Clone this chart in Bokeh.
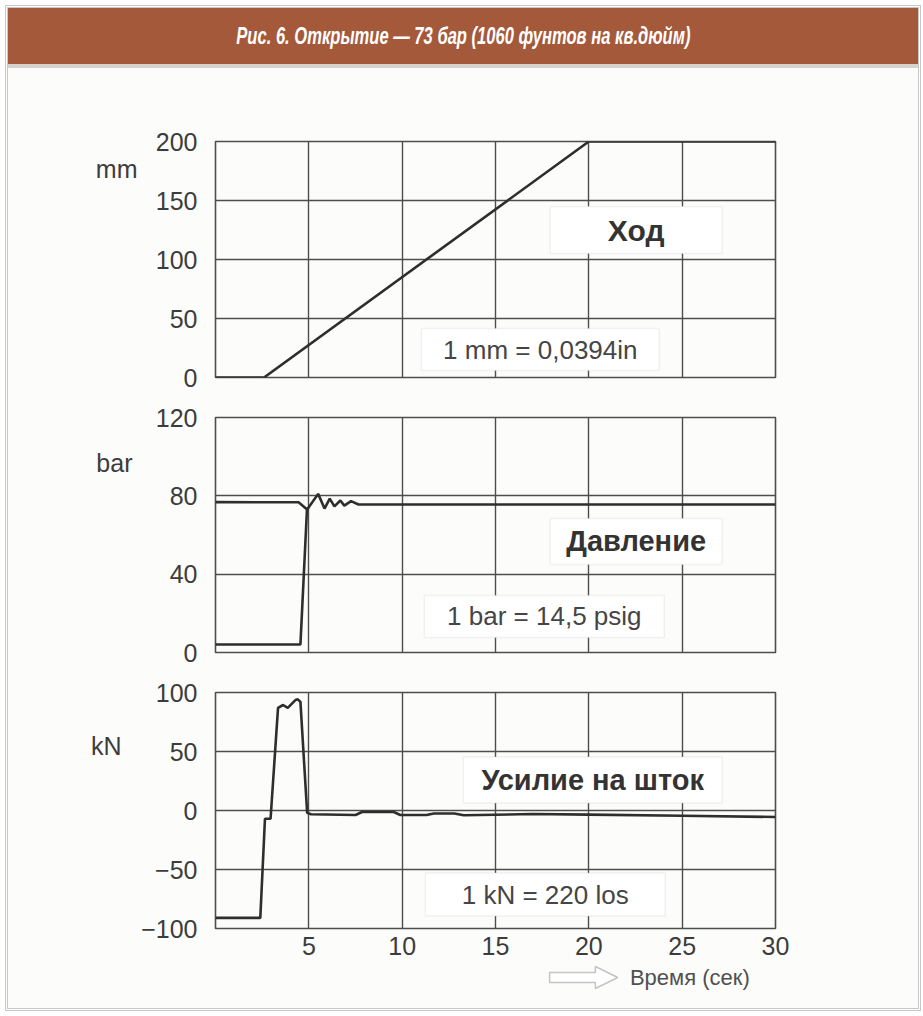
from bokeh.plotting import figure
from bokeh.models import Range1d, FixedTicker, Label, BoxAnnotation, Div, LinearAxis
from bokeh.layouts import column
from bokeh.embed import file_html
from bokeh.resources import INLINE
from bokeh.core.properties import value

# ---------------- data ----------------
TITLE = "Рис. 6. Открытие — 73 бар (1060 фунтов на кв.дюйм)"
X_LABEL = "Время (сек)"
x_ticks = [5, 10, 15, 20, 25, 30]

# panel 1: travel (mm)
travel_t = [0, 2.6, 20, 30]
travel_mm = [0, 0, 200, 200]
travel_ticks = [0, 50, 100, 150, 200]

# panel 2: pressure (bar) - upstream and downstream traces
press_up_t = [0, 4.45, 4.91, 5.5, 5.84, 6.12, 6.37, 6.69, 6.9, 7.26, 7.66, 30]
press_up = [76.8, 76.7, 73, 81, 73.5, 78.6, 74.6, 77.6, 75, 77.3, 75.6, 75.6]
press_dn_t = [0, 4.55, 4.9]
press_dn = [4.1, 4.1, 73]
press_ticks = [0, 40, 80, 120]

# panel 3: stem force (kN)
force_t = [0, 2.4, 2.65, 2.95, 3.35, 3.62, 3.87, 4.28, 4.41, 4.55, 4.91, 5.12,
           7.5, 7.85, 9.55, 9.9, 11.3, 11.7, 12.8, 13.3, 17, 20, 25, 30]
force_kn = [-91, -91, -7, -7, 87, 89.4, 87, 93.6, 94.2, 92, -2, -3.2,
            -3.8, -1.3, -1.3, -3.8, -3.8, -2.5, -2.5, -4, -3, -3.5, -4.5, -5.5]
force_ticks = [-100, -50, 0, 50, 100]

# ---------------- style ----------------
BG = "#fcfcfa"
GRID = "#4d4d4d"
TXT = "#3c3c3c"
LINE = "#2e2e2e"
FONT = "Liberation Sans"
W = 910
LEFT = 207
FRAME_W = 560


def style_axis(ax, size="25px", color=TXT):
    ax.axis_line_color = None
    ax.major_tick_line_color = None
    ax.minor_tick_line_color = None
    ax.major_tick_out = 0
    ax.major_tick_in = 0
    ax.major_label_text_font = FONT
    ax.major_label_text_font_size = size
    ax.major_label_text_color = color


def make_fig(height, top, bottom, yr, yticks, show_x=False):
    p = figure(width=W, height=height, x_range=Range1d(0, 30), y_range=Range1d(*yr),
               output_backend="svg", toolbar_location=None,
               min_border_left=LEFT, min_border_right=W - LEFT - FRAME_W,
               min_border_top=top, min_border_bottom=bottom,
               background_fill_color=BG, border_fill_color=BG,
               outline_line_color=GRID, outline_line_width=1.6, margin=0)
    p.yaxis.ticker = FixedTicker(ticks=yticks)
    for ax in p.yaxis + p.xaxis:
        style_axis(ax)
    p.yaxis.major_label_standoff = 18
    if show_x:
        p.xaxis.ticker = FixedTicker(ticks=x_ticks)
        p.xaxis.major_label_standoff = 8
    else:
        p.xaxis.visible = False
    p.xgrid.ticker = FixedTicker(ticks=x_ticks[:-1])
    p.ygrid.ticker = FixedTicker(ticks=yticks)
    for g in (p.xgrid, p.ygrid):
        g.grid_line_color = GRID
        g.grid_line_width = 1.4
    return p


def add_box(p, left, right, bottom, top, text, size, bold):
    p.add_layout(BoxAnnotation(left=left, right=right, bottom=bottom, top=top,
                               fill_color="white", fill_alpha=1.0,
                               line_color="#d4d4d4", line_width=1.5))
    p.add_layout(Label(x=(left + right) / 2, y=(bottom + top) / 2, text=text,
                       text_align="center", text_baseline="middle",
                       text_font=FONT, text_font_size=size,
                       text_font_style="bold" if bold else "normal",
                       text_color="#333333" if bold else "#454545"))


def add_unit(p, y, text, standoff):
    ua = LinearAxis(ticker=FixedTicker(ticks=[y]), major_label_overrides={y: text},
                    major_label_standoff=standoff)
    style_axis(ua)
    p.add_layout(ua, "left")


# panel 1
f1 = make_fig(325, 69, 20, (0, 200), travel_ticks)
f1.line(travel_t, travel_mm, line_color=LINE, line_width=2.6)
add_box(f1, 17.93, 27.14, 105, 145, "Ход", "30px", True)
add_box(f1, 11.03, 23.77, 5.9, 41.5, "1 mm = 0,0394in", "26px", False)
add_unit(f1, 177, "mm", 15)

# panel 2
f2 = make_fig(275, 20, 20, (0, 120), press_ticks)
f2.line(press_up_t, press_up, line_color=LINE, line_width=2.6)
f2.line(press_dn_t, press_dn, line_color=LINE, line_width=2.6)
add_box(f2, 17.93, 27.14, 45, 68.4, "Давление", "29px", True)
add_box(f2, 11.19, 24.04, 7.7, 29.1, "1 bar = 14,5 psig", "26px", False)
add_unit(f2, 97, "bar", 20)

# panel 3
f3 = make_fig(290, 20, 34, (-100, 100), force_ticks, show_x=True)
f3.yaxis.major_label_overrides = {-100: "\u2212100", -50: "\u221250"}
f3.line(force_t, force_kn, line_color=LINE, line_width=2.6)
add_box(f3, 13.28, 27.14, 6.4, 45.3, "Усилие на шток", "29px", True)
add_box(f3, 11.24, 24.09, -89.4, -53, "1 kN = 220 los", "26px", False)
add_unit(f3, 55, "kN", 17)

# strip below with the time label and its hollow arrow (same time scale)
f4 = figure(width=W, height=46, x_range=f3.x_range, y_range=Range1d(0, 46),
            output_backend="svg", toolbar_location=None,
            min_border_left=LEFT, min_border_right=W - LEFT - FRAME_W,
            min_border_top=0, min_border_bottom=0,
            background_fill_color=BG, border_fill_color=BG,
            outline_line_color=None, margin=0)
f4.axis.visible = False
f4.grid.visible = False
ay = 31
f4.patch([17.9, 20.35, 20.35, 21.55, 20.35, 20.35, 17.9],
         [ay - 5, ay - 5, ay - 11, ay, ay + 11, ay + 5, ay + 5],
         fill_color="white", line_color="#c4c4c4", line_width=1.5)
f4.text([22.2], [ay], text=[X_LABEL], text_align="left", text_baseline="middle",
        text_font=value(FONT), text_font_size="22px", text_color="#505050")

title_html = (
    '<div style="width:%dpx;height:60px;background:#a4593b;display:flex;align-items:center;'
    'justify-content:center;border-bottom:4px solid #d6d2ce;">'
    '<span style="font-family:\'Liberation Sans\';font-weight:bold;font-style:italic;'
    'font-size:23px;color:#ffffff;display:inline-block;transform:scaleX(0.72);'
    'white-space:nowrap;">%s</span></div>' % (W, TITLE)
)
title_div = Div(text=title_html, width=W, height=64, margin=0)

layout = column(title_div, f1, f2, f3, f4, spacing=0, margin=(8, 0, 0, 8),
                styles={"background-color": BG, "outline": "3px double #c8c8c8"})

open("out.html", "w").write(file_html(layout, INLINE))
